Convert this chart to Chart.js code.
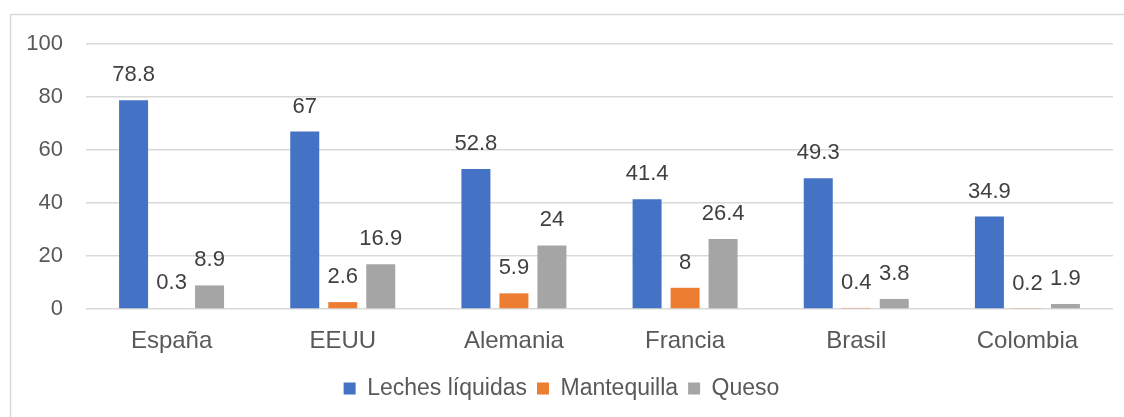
<!DOCTYPE html>
<html>
<head>
<meta charset="utf-8">
<script src="https://cdn.jsdelivr.net/npm/chart.js@4"></script>
<style>
  html, body { margin: 0; padding: 0; background: #fff; }
  #wrap { width: 1124px; height: 417px; position: relative; }
</style>
</head>
<body>
<div id="wrap"><canvas id="grafico"></canvas></div>
<script>
// datos del gráfico
const paises = ['España', 'EEUU', 'Alemania', 'Francia', 'Brasil', 'Colombia'];
const lechesLiquidas = [78.8, 67, 52.8, 41.4, 49.3, 34.9];
const mantequilla = [0.3, 2.6, 5.9, 8, 0.4, 0.2];
const queso = [8.9, 16.9, 24, 26.4, 3.8, 1.9];
const ticksY = [0, 20, 40, 60, 80, 100];

const colorTexto = '#595959';
const fuente = "'Liberation Sans', Arial, sans-serif";

// marco gris alrededor del gráfico
const marco = {
    id: 'marco',
    beforeDraw(chart) {
        const c = chart.ctx;
        c.save();
        c.strokeStyle = '#D9D9D9';
        c.lineWidth = 1.5;
        c.strokeRect(10.5, 14.5, 1300, 600);
        c.restore();
    }
};

// etiquetas de valor encima de cada barra
const etiquetas = {
    id: 'etiquetas',
    afterDatasetsDraw(chart) {
        const c = chart.ctx;
        c.save();
        c.font = '22px ' + fuente;
        c.fillStyle = '#404040';
        c.textAlign = 'center';
        c.textBaseline = 'middle';
        chart.data.datasets.forEach((ds, i) => {
            chart.getDatasetMeta(i).data.forEach((bar, j) => {
                c.fillText(String(ds.data[j]), bar.x, bar.y - 25);
            });
        });
        c.restore();
    }
};

new Chart(document.getElementById('grafico').getContext('2d'), {
    type: 'bar',
    data: {
        labels: paises,
        datasets: [
            { label: 'Leches líquidas', data: lechesLiquidas, backgroundColor: '#4472C4' },
            { label: 'Mantequilla', data: mantequilla, backgroundColor: '#ED7D31' },
            { label: 'Queso', data: queso, backgroundColor: '#A5A5A5' }
        ]
    },
    options: {
        responsive: true,
        maintainAspectRatio: false,
        animation: false,
        categoryPercentage: 0.666,
        barPercentage: 0.763,
        layout: { padding: { left: 10, top: 44, right: 11, bottom: 7 } },
        scales: {
            x: {
                grid: { display: false },
                border: { display: false },
                ticks: { color: colorTexto, font: { family: fuente, size: 24 }, padding: 10 },
                afterFit(s) { s.height = 58; }
            },
            y: {
                min: 0,
                max: 100,
                afterBuildTicks(s) { s.ticks = ticksY.map(v => ({ value: v })); },
                grid: { color: '#D9D9D9', lineWidth: 1.5, drawTicks: false },
                border: { display: false },
                ticks: { color: colorTexto, font: { family: fuente, size: 22 }, padding: 23 },
                afterFit(s) { s.width = 76; }
            }
        },
        plugins: {
            legend: {
                position: 'bottom',
                labels: {
                    boxWidth: 12,
                    boxHeight: 12,
                    padding: 10,
                    color: colorTexto,
                    font: { family: fuente, size: 23 }
                }
            },
            tooltip: { enabled: false }
        }
    },
    plugins: [marco, etiquetas]
});
</script>
</body>
</html>
